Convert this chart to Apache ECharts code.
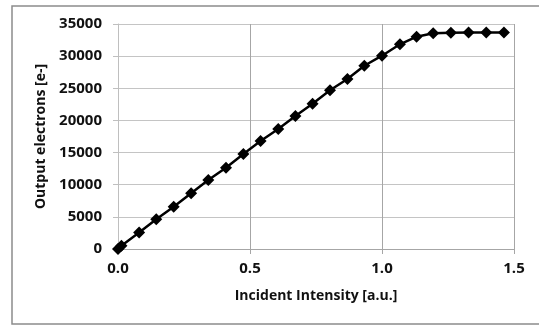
<!DOCTYPE html>
<html>
<head>
<meta charset="utf-8">
<script src="https://cdn.jsdelivr.net/npm/echarts@6/dist/echarts.min.js"></script>
<style>
  html, body { margin: 0; padding: 0; background: #fff; }
  #chart { width: 539px; height: 325px; }
</style>
</head>
<body>
<div id="chart"></div>
<script>
// values
const intensity = [0, 0.013, 0.08, 0.145, 0.211, 0.277, 0.342, 0.409, 0.475, 0.540, 0.607, 0.672,
  0.737, 0.803, 0.869, 0.933, 1.0, 1.068, 1.131, 1.194, 1.261, 1.328, 1.395, 1.462];
const electrons = [0, 500, 2550, 4620, 6580, 8670, 10730, 12650, 14780, 16800, 18670, 20690,
  22600, 24690, 26440, 28500, 30070, 31840, 33020, 33550, 33650, 33680, 33680, 33680];
const xTitle = 'Incident Intensity [a.u.]';
const yTitle = 'Output electrons [e-]';

const fontFamily = '"Open Sans", sans-serif';
const textColor = '#111';

const chart = echarts.init(document.getElementById('chart'));

const option = {
    animation: false,
    grid: { left: 118, right: 25, top: 24, bottom: 76 },
    graphic: [{
        type: 'rect',
        shape: { x: 12, y: 6, width: 540, height: 318 },
        style: { fill: 'none', stroke: '#8c8c8c', lineWidth: 1.5 },
        silent: true
    }],
    xAxis: {
        type: 'value',
        min: 0,
        max: 1.5,
        interval: 0.5,
        name: xTitle,
        nameLocation: 'middle',
        nameGap: 40,
        nameTextStyle: { fontFamily, fontWeight: 'bold', fontSize: 14, color: textColor },
        axisLine: { lineStyle: { color: '#a6a6a6', width: 1 } },
        axisTick: { show: true, length: 5, lineStyle: { color: '#a6a6a6' } },
        axisLabel: {
            margin: 12,
            fontFamily, fontWeight: 'bold', fontSize: 15, color: textColor,
            formatter: (v) => v.toFixed(1)
        },
        splitLine: { show: true, lineStyle: { color: '#a6a6a6', width: 1 } }
    },
    yAxis: {
        type: 'value',
        min: 0,
        max: 35000,
        interval: 5000,
        name: yTitle,
        nameLocation: 'middle',
        nameGap: 68,
        nameTextStyle: { fontFamily, fontWeight: 'bold', fontSize: 14, color: textColor },
        axisLine: { show: true, lineStyle: { color: '#bfbfbf', width: 1 } },
        axisTick: { show: true, length: 5, lineStyle: { color: '#bfbfbf' } },
        axisLabel: {
            margin: 16,
            fontFamily, fontWeight: 'bold', fontSize: 15, color: textColor,
            formatter: (v) => String(v)
        },
        splitLine: { show: true, lineStyle: { color: '#c4c4c4', width: 1 } }
    },
    series: [{
        type: 'line',
        data: intensity.map((x, i) => [x, electrons[i]]),
        symbol: 'diamond',
        symbolSize: 12,
        showAllSymbol: true,
        lineStyle: { color: '#000', width: 2.5 },
        itemStyle: { color: '#000' }
    }]
};

chart.setOption(option);
</script>
</body>
</html>
